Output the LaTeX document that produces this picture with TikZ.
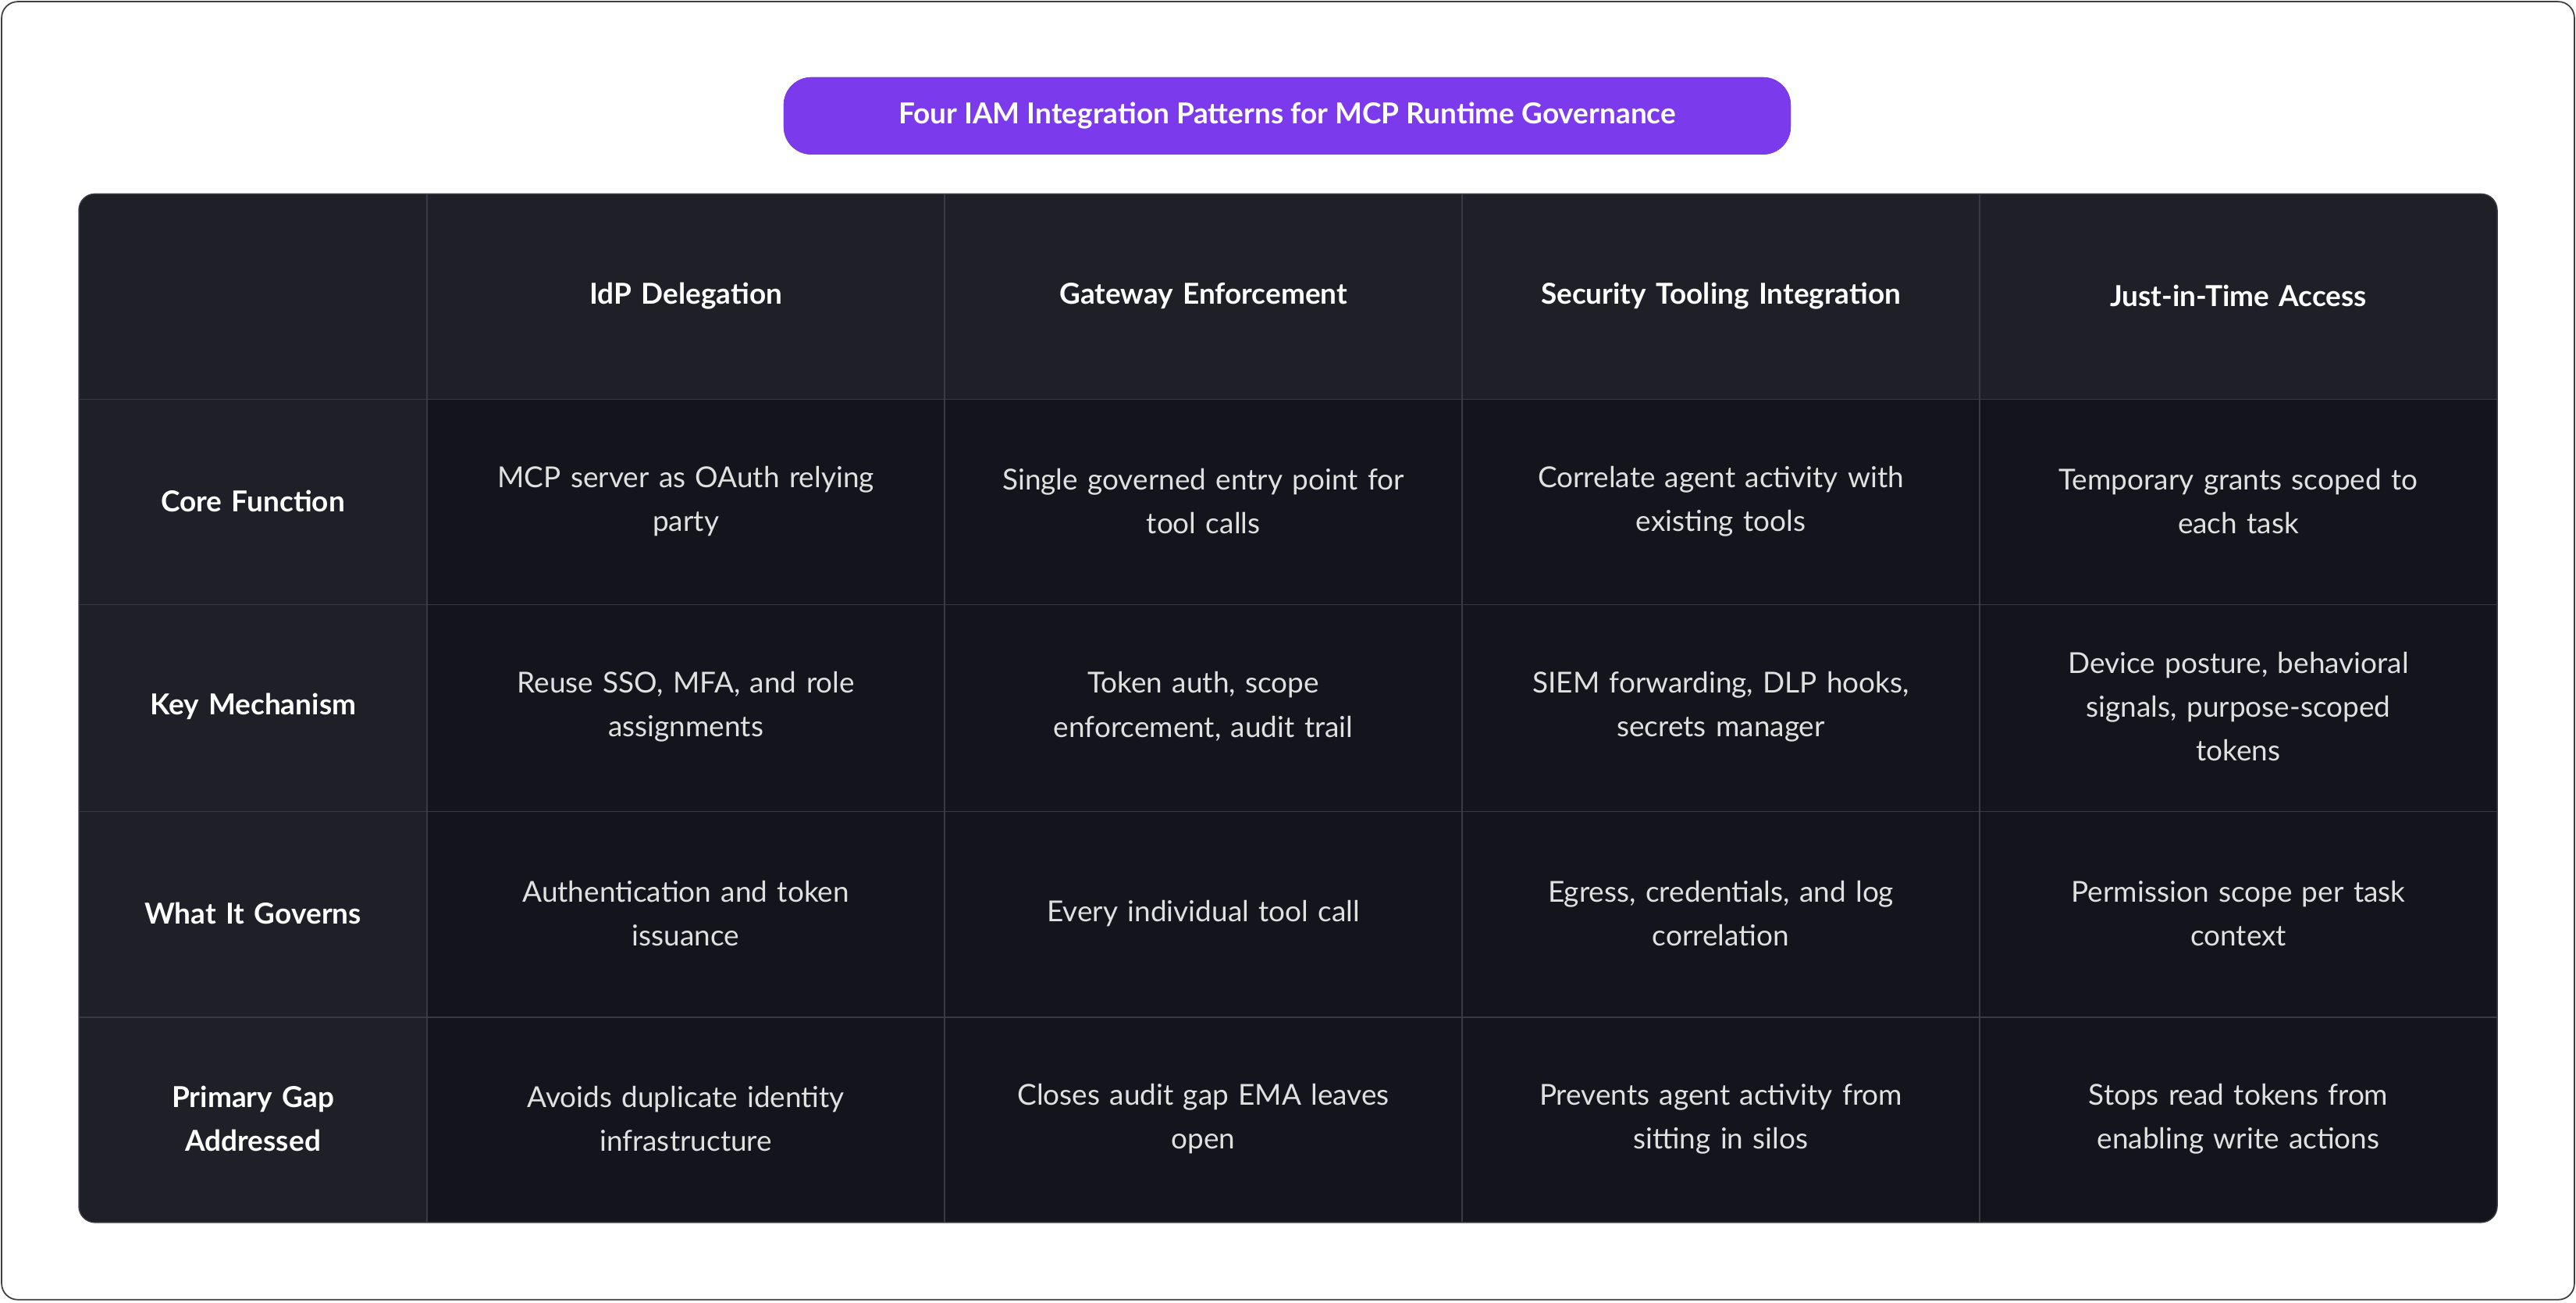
\documentclass[tikz,border=0pt]{standalone}
\usepackage{fontspec}
\setmainfont{Lato}
\begin{document}
\begin{tikzpicture}[x=0.05cm,y=-0.05cm,
  hdr/.style={font=\fontsize{25}{32}\selectfont\bfseries,text=white,align=center,text width=13cm},
  rowh/.style={font=\fontsize{25}{38}\selectfont\bfseries,text=white,align=center,text width=9cm},
  cell/.style={font=\fontsize{25}{38}\selectfont,text=white!88!black,align=center,text width=13.5cm}]
\useasboundingbox (0,0) rectangle (1568,793);
\draw[line width=1.2pt,draw=black!75,rounded corners=14] (1,1) rectangle (1567,791);
\node[fill=violet!65!blue!90!white,fill=violet,rounded corners=24,minimum width=613*0.05cm,minimum height=47*0.05cm,text=white,font=\fontsize{25}{30}\selectfont\bfseries] (title) at (783.5,70.5) {Four IAM Integration Patterns for MCP Runtime Governance};
\definecolor{pur}{HTML}{7C3AED}
\node[fill=pur,rounded corners=24,minimum width=613*0.05cm,minimum height=47*0.05cm,text=white,font=\fontsize{25}{30}\selectfont\bfseries] at (783.5,70.5) {Four IAM Integration Patterns for MCP Runtime Governance};
\definecolor{tb}{HTML}{14141D}
\definecolor{hd}{HTML}{1F1F28}
\definecolor{gl}{HTML}{3A3A44}
\begin{scope}
\clip[rounded corners=14] (48,118) rectangle (1520,744);
\fill[tb] (48,118) rectangle (1520,744);
\fill[hd] (48,118) rectangle (1520,243);
\fill[hd] (48,118) rectangle (260,744);
\foreach \x in {260,575,890,1205} \draw[gl,line width=1pt] (\x,118) -- (\x,744);
\foreach \y in {243,368,494,619} \draw[gl,line width=1pt] (48,\y) -- (1520,\y);
\end{scope}
\draw[gl,line width=1pt,rounded corners=14] (48,118) rectangle (1520,744);
\node[hdr] (h1) at (417.5,180) {IdP Delegation};
\node[hdr] (h2) at (732.5,180) {Gateway Enforcement};
\node[hdr] (h3) at (1047.5,180) {Security Tooling Integration};
\node[hdr] (h4) at (1362.5,180) {Just-in-Time Access};
\node[rowh] (r1) at (154,305) {Core Function};
\node[rowh] (r2) at (154,430) {Key Mechanism};
\node[rowh] (r3) at (154,556) {What It Governs};
\node[rowh] (r4) at (154,681) {Primary Gap\\Addressed};
\node[cell] (c11) at (417.5,305) {MCP server as OAuth relying\\party};
\node[cell] (c12) at (732.5,305) {Single governed entry point for\\tool calls};
\node[cell] (c13) at (1047.5,305) {Correlate agent activity with\\existing tools};
\node[cell] (c14) at (1362.5,305) {Temporary grants scoped to\\each task};
\node[cell] (c21) at (417.5,430) {Reuse SSO, MFA, and role\\assignments};
\node[cell] (c22) at (732.5,430) {Token auth, scope\\enforcement, audit trail};
\node[cell] (c23) at (1047.5,430) {SIEM forwarding, DLP hooks,\\secrets manager};
\node[cell] (c24) at (1362.5,430) {Device posture, behavioral\\signals, purpose-scoped\\tokens};
\node[cell] (c31) at (417.5,556) {Authentication and token\\issuance};
\node[cell] (c32) at (732.5,556) {Every individual tool call};
\node[cell] (c33) at (1047.5,556) {Egress, credentials, and log\\correlation};
\node[cell] (c34) at (1362.5,556) {Permission scope per task\\context};
\node[cell] (c41) at (417.5,681) {Avoids duplicate identity\\infrastructure};
\node[cell] (c42) at (732.5,681) {Closes audit gap EMA leaves\\open};
\node[cell] (c43) at (1047.5,681) {Prevents agent activity from\\sitting in silos};
\node[cell] (c44) at (1362.5,681) {Stops read tokens from\\enabling write actions};
\end{tikzpicture}
\end{document}
